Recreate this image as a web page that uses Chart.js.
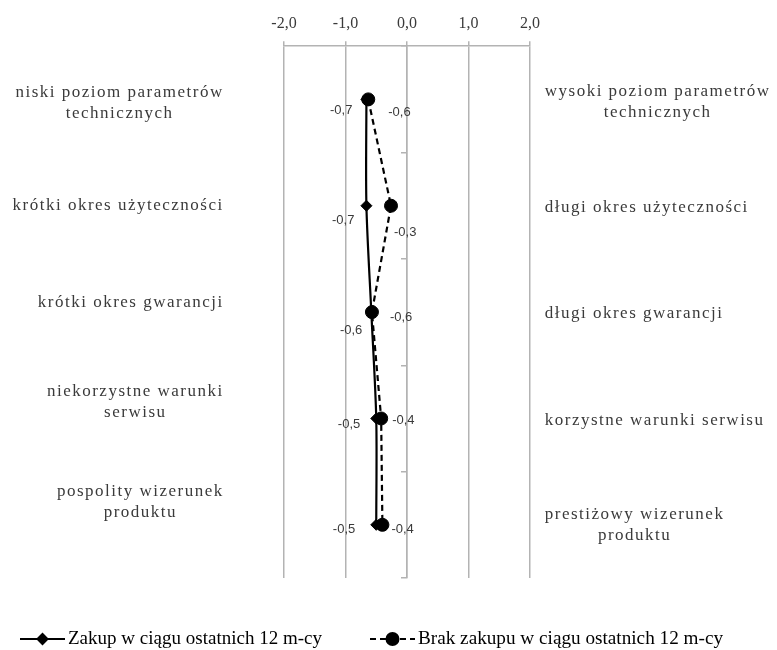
<!DOCTYPE html>
<html><head><meta charset="utf-8">
<script src="https://cdn.jsdelivr.net/npm/chart.js@4/dist/chart.umd.min.js"></script>
<style>html,body{margin:0;padding:0;background:#fff}#c{display:block}</style>
</head><body>
<canvas id="c" width="777" height="650"></canvas>
<script>
// ---------- data ----------
const categories = ['parametry techniczne', 'okres użyteczności', 'okres gwarancji', 'warunki serwisu', 'wizerunek produktu'];
const leftLabels = [['niski poziom parametrów', 'technicznych'], ['krótki okres użyteczności'], ['krótki okres gwarancji'], ['niekorzystne warunki', 'serwisu'], ['pospolity wizerunek', 'produktu']];
const rightLabels = [['wysoki poziom parametrów', 'technicznych'], ['długi okres użyteczności'], ['długi okres gwarancji'], ['korzystne warunki serwisu'], ['prestiżowy wizerunek', 'produktu']];
const zakupValues = [-0.66, -0.66, -0.58, -0.50, -0.50];
const brakValues = [-0.63, -0.26, -0.57, -0.42, -0.40];
const seriesNames = ['Zakup w ciągu ostatnich 12 m-cy', 'Brak zakupu w ciągu ostatnich 12 m-cy'];
const xTicks = [-2, -1, 0, 1, 2];

// ---------- layout (kept apart from data) ----------
const GRID = '#b3b3b3';
const TEXT = '#3a3a3a';
const leftLabelDy = [4, 0, -10, -16, -23];
const rightLabelDy = [3, 2, 1, 2, 0];
const leftBlockRight = 223;
const rightBlockLeft = 544;
const catLine = 21;
const zakupLabelOff = [[-14, 11], [-12, 15], [-9, 18], [-16, 6], [-21, 5]];
const brakLabelOff = [[20, 13], [3, 27], [18, 5], [11, 2], [9, 5]];
const legendY = 639;

const fmt = v => (Math.round(v * 10) / 10).toFixed(1).replace('.', ',');

const sidePlugin = {
  id: 'side',
  afterDraw(chart) {
    const ctx = chart.ctx;
    const ys = chart.scales.y;
    ctx.save();
    ctx.font = '17px "Liberation Serif", "Times New Roman", serif';
    ctx.letterSpacing = '1.5px';
    ctx.fillStyle = TEXT;
    ctx.textBaseline = 'middle';
    ctx.textAlign = 'center';
    const drawBlock = (lines, cy, edge, isRight) => {
      const w = Math.max(...lines.map(l => ctx.measureText(l).width));
      const cx = isRight ? edge + w / 2 : edge - w / 2;
      const y0 = cy - (lines.length - 1) * catLine / 2;
      lines.forEach((l, k) => ctx.fillText(l, cx + 0.75, y0 + k * catLine));
    };
    categories.forEach((c, i) => {
      const py = ys.getPixelForValue(i);
      drawBlock(leftLabels[i], py + leftLabelDy[i], leftBlockRight, false);
      drawBlock(rightLabels[i], py + rightLabelDy[i], rightBlockLeft, true);
    });
    ctx.restore();

    // data labels
    ctx.save();
    ctx.font = '13px "Liberation Sans", Arial, sans-serif';
    ctx.fillStyle = TEXT;
    ctx.textBaseline = 'middle';
    const m0 = chart.getDatasetMeta(0), m1 = chart.getDatasetMeta(1);
    ctx.textAlign = 'right';
    m0.data.forEach((pt, i) => ctx.fillText(fmt(zakupValues[i]), pt.x + zakupLabelOff[i][0], pt.y + zakupLabelOff[i][1]));
    ctx.textAlign = 'left';
    m1.data.forEach((pt, i) => ctx.fillText(fmt(brakValues[i]), pt.x + brakLabelOff[i][0], pt.y + brakLabelOff[i][1]));
    ctx.restore();

    // legend
    ctx.save();
    const items = [
      {x: 20, ds: chart.data.datasets[0], name: seriesNames[0], tw: 254},
      {x: 370, ds: chart.data.datasets[1], name: seriesNames[1], tw: 305}
    ];
    items.forEach(it => {
      ctx.strokeStyle = '#000';
      ctx.lineWidth = 2;
      ctx.setLineDash(it.ds.borderDash || []);
      ctx.beginPath(); ctx.moveTo(it.x, legendY); ctx.lineTo(it.x + 45, legendY); ctx.stroke();
      ctx.setLineDash([]);
      Chart.helpers.drawPoint(ctx, {pointStyle: it.ds.pointStyle, radius: it.ds.pointRadius - 0.5, borderWidth: 1}, it.x + 22.5, legendY);
      ctx.fillStyle = '#000';
      ctx.fill();
      ctx.font = '18px "Liberation Serif", "Times New Roman", serif';
      ctx.textBaseline = 'middle';
      ctx.textAlign = 'left';
      const w = ctx.measureText(it.name).width;
      const sx = it.tw / w;
      ctx.save();
      ctx.translate(it.x + 48, legendY);
      ctx.scale(sx, 1);
      ctx.fillText(it.name, 0, 0);
      ctx.restore();
    });
    ctx.restore();
  }
};

new Chart(document.getElementById('c'), {
  type: 'line',
  data: {
    labels: categories,
    datasets: [
      {
        label: seriesNames[0], data: zakupValues,
        borderColor: '#000', backgroundColor: '#000', borderWidth: 2.2,
        pointStyle: 'rectRot', pointRadius: 5.5, pointBorderWidth: 1,
        tension: 0.3, order: 1
      },
      {
        label: seriesNames[1], data: brakValues,
        borderColor: '#000', backgroundColor: '#000', borderWidth: 2.2, borderDash: [6, 4],
        pointStyle: 'circle', pointRadius: 6.5, pointBorderWidth: 1,
        tension: 0, order: 0
      }
    ]
  },
  options: {
    responsive: false,
    animation: false,
    indexAxis: 'y',
    layout: {padding: {left: 284, right: 247, top: 6, bottom: 72}},
    plugins: {legend: {display: false}, tooltip: {enabled: false}},
    scales: {
      x: {
        type: 'linear', position: 'top', min: -2, max: 2,
        afterBuildTicks: s => { s.ticks = xTicks.map(v => ({value: v})); },
        grid: {color: GRID, lineWidth: 1.5, tickLength: 5, drawOnChartArea: true},
        border: {display: true, color: GRID, width: 1.5},
        ticks: {
          color: TEXT, padding: 8,
          font: {family: '"Liberation Serif", "Times New Roman", serif', size: 16},
          callback: v => fmt(v)
        }
      },
      y: {
        type: 'category', position: {x: 0}, offset: true,
        grid: {offset: true, drawOnChartArea: false, tickLength: 5, color: GRID, lineWidth: 1.5},
        border: {display: true, color: GRID, width: 1.5},
        ticks: {display: false}
      }
    }
  },
  plugins: [sidePlugin]
});
</script>
</body></html>
